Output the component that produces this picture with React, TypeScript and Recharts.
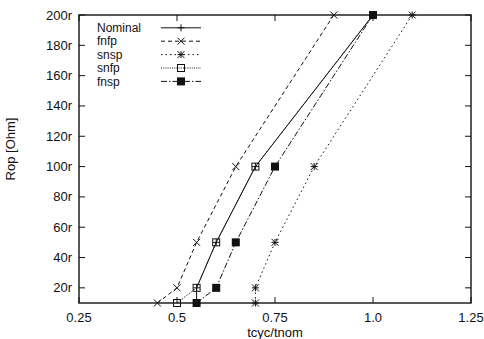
import { Line, LineChart, ReferenceArea, XAxis, YAxis } from "recharts";

const rop = [10, 20, 50, 100, 200];
const nominal = [0.55, 0.55, 0.6, 0.7, 1.0];
const fnfp = [0.45, 0.5, 0.55, 0.65, 0.9];
const snsp = [0.7, 0.7, 0.75, 0.85, 1.1];
const snfp = [0.5, 0.55, 0.6, 0.7, 1.0];
const fnsp = [0.55, 0.6, 0.65, 0.75, 1.0];

const xTicks = [0.25, 0.5, 0.75, 1.0, 1.25];
const xTickLabels = ["0.25", "0.5", "0.75", "1.0", "1.25"];
const yTicks = [20, 40, 60, 80, 100, 120, 140, 160, 180, 200];

const W = 484;
const H = 339;
const TOP = 15;
const RIGHT = 471;
const LEFT = 79;
const FONT = "'Liberation Sans', Arial, sans-serif";
const INK = "#111";

type Marker = "plus" | "cross" | "star" | "box" | "boxFilled";

function drawMarker(kind: Marker, cx: number, cy: number, key?: string) {
  const r = 3.5;
  const s = { stroke: INK, strokeWidth: 1 };
  if (kind === "plus")
    return (
      <g key={key}>
        <line x1={cx - r} x2={cx + r} y1={cy} y2={cy} {...s} />
        <line x1={cx} x2={cx} y1={cy - r} y2={cy + r} {...s} />
      </g>
    );
  if (kind === "cross")
    return (
      <g key={key}>
        <line x1={cx - r} x2={cx + r} y1={cy - r} y2={cy + r} {...s} />
        <line x1={cx - r} x2={cx + r} y1={cy + r} y2={cy - r} {...s} />
      </g>
    );
  if (kind === "star")
    return (
      <g key={key}>
        <line x1={cx - r} x2={cx + r} y1={cy} y2={cy} {...s} />
        <line x1={cx} x2={cx} y1={cy - r} y2={cy + r} {...s} />
        <line x1={cx - r} x2={cx + r} y1={cy - r} y2={cy + r} {...s} />
        <line x1={cx - r} x2={cx + r} y1={cy + r} y2={cy - r} {...s} />
      </g>
    );
  if (kind === "box")
    return <rect key={key} x={cx - r} y={cy - r} width={2 * r} height={2 * r} fill="none" {...s} />;
  return <rect key={key} x={cx - r - 0.5} y={cy - r - 0.5} width={2 * r + 1} height={2 * r + 1} fill={INK} />;
}

const series = [
  { name: "Nominal", xs: nominal, marker: "plus" as Marker, dash: undefined },
  { name: "fnfp", xs: fnfp, marker: "cross" as Marker, dash: "4 3" },
  { name: "snsp", xs: snsp, marker: "star" as Marker, dash: "1.5 3" },
  { name: "snfp", xs: snfp, marker: "box" as Marker, dash: "1 1.2" },
  { name: "fnsp", xs: fnsp, marker: "boxFilled" as Marker, dash: "6 2 1.5 2" },
];

const XTick = (props: any) => {
  const { x, y, payload } = props;
  const i = xTicks.indexOf(payload.value);
  return (
    <g>
      <line x1={x} x2={x} y1={y} y2={y - 6} stroke={INK} />
      <line x1={x} x2={x} y1={TOP} y2={TOP + 6} stroke={INK} />
      <text x={x} y={y + 19} textAnchor="middle" fontSize={13} fontFamily={FONT} fill={INK}>
        {xTickLabels[i]}
      </text>
    </g>
  );
};

const YTick = (props: any) => {
  const { x, y, payload } = props;
  return (
    <g>
      <line x1={x} x2={x + 6} y1={y} y2={y} stroke={INK} />
      <line x1={RIGHT} x2={RIGHT - 6} y1={y} y2={y} stroke={INK} />
      <text x={x - 7} y={y + 4.5} textAnchor="end" fontSize={13} fontFamily={FONT} fill={INK}>
        {`${payload.value}r`}
      </text>
    </g>
  );
};

export default function App() {
  return (
    <div style={{ position: "absolute", left: 0, top: 0, width: W, height: H, background: "#fff" }}>
      <LineChart width={W} height={H} margin={{ top: TOP, right: W - RIGHT, left: 0, bottom: 0 }}>
        <XAxis
          type="number"
          dataKey="x"
          domain={[0.25, 1.25]}
          ticks={xTicks}
          height={36}
          axisLine={false}
          tickLine={false}
          tickSize={0}
          tickMargin={0}
          tick={XTick}
          interval={0}
        />
        <YAxis
          type="number"
          dataKey="y"
          domain={[10, 200]}
          ticks={yTicks}
          width={LEFT}
          axisLine={false}
          tickLine={false}
          tickSize={0}
          tickMargin={0}
          tick={YTick}
          interval={0}
        />
        <ReferenceArea x1={0.25} x2={1.25} y1={10} y2={200} fill="none" stroke="#222" strokeWidth={1.5} />
        {series.map((s) => (
          <Line
            key={s.name}
            data={s.xs.map((x, i) => ({ x, y: rop[i] }))}
            dataKey="y"
            stroke={INK}
            strokeWidth={1}
            strokeDasharray={s.dash}
            dot={(p: any) => drawMarker(s.marker, p.cx, p.cy, `${s.name}-${p.index}`)}
            activeDot={false}
            isAnimationActive={false}
            legendType="none"
          />
        ))}
      </LineChart>
      <svg
        width={W}
        height={H}
        style={{ position: "absolute", left: 0, top: 0, pointerEvents: "none" }}
        fontFamily={FONT}
      >
        {series.map((s, i) => {
          const cy = 27.8 + i * 13.4;
          return (
            <g key={s.name}>
              <text x={97} y={cy + 4.2} fontSize={12} fill={INK}>
                {s.name}
              </text>
              <line x1={161} x2={201} y1={cy} y2={cy} stroke={INK} strokeDasharray={s.dash} />
              {drawMarker(s.marker, 181, cy)}
            </g>
          );
        })}
        <text x={275} y={337} textAnchor="middle" fontSize={13} fill={INK}>
          tcyc/tnom
        </text>
        <text
          x={0}
          y={0}
          transform="translate(15 149) rotate(-90)"
          textAnchor="middle"
          fontSize={13}
          fill={INK}
        >
          Rop [Ohm]
        </text>
      </svg>
    </div>
  );
}
